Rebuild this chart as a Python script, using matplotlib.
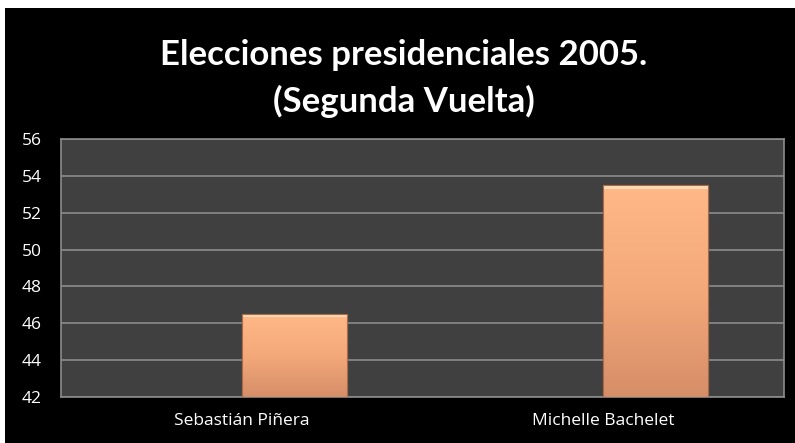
import numpy as np
import matplotlib.pyplot as plt
import matplotlib.patches as mpatches
from matplotlib.colors import LinearSegmentedColormap

candidatos = ['Sebastián Piñera', 'Michelle Bachelet']
votos = [46.5, 53.5]
yticks = [42, 44, 46, 48, 50, 52, 54, 56]

plt.rcParams['font.family'] = ['Open Sans', 'DejaVu Sans']

fig = plt.figure(figsize=(7.95, 4.43), dpi=100)
fig.patch.set_facecolor('white')
# black slide background
fig.patches.append(mpatches.Rectangle((5/795, 0), 1, 1 - 8/443, transform=fig.transFigure,
                                      facecolor='black', edgecolor='none', zorder=-10))

ax = fig.add_axes([61/795, 1 - 396.7/443, 723/795, 257.4/443])
ax.set_facecolor('#404040')

x = np.arange(len(candidatos))
bars = ax.bar(x, [v - 42 for v in votos], bottom=42, width=0.29, align='edge',
              color='#F4A97A', edgecolor='#A86A48', linewidth=0.8, zorder=3)

# vertical gradient inside each bar
grad = np.linspace(0, 1, 256).reshape(-1, 1)
cmap = LinearSegmentedColormap.from_list('peach', ['#D68E68', '#F4A97A', '#FFB888'])
for b in bars:
    x0, y0 = b.get_x(), b.get_y()
    w, h = b.get_width(), b.get_height()
    im = ax.imshow(grad, cmap=cmap, aspect='auto', origin='lower',
                   extent=[x0, x0 + w, y0, y0 + h], zorder=3.5)
    im.set_clip_path(b)
    # light bevel on top
    ax.add_patch(mpatches.Rectangle((x0, y0 + h - 0.18), w, 0.18, facecolor='#FFE2C0',
                                    edgecolor='none', alpha=0.8, zorder=4))
    ax.add_patch(mpatches.Rectangle((x0, y0), w, h, facecolor='none',
                                    edgecolor='#A86A48', linewidth=0.8, zorder=5))

ax.set_xlim(-0.5, 1.5)
ax.set_ylim(42, 56)
ax.set_yticks(yticks)
ax.set_xticks(x)
ax.set_xticklabels(candidatos)
ax.grid(axis='y', color='#8C8C8C', linewidth=1.2, zorder=1)
ax.set_axisbelow(True)
for s in ax.spines.values():
    s.set_color('#8C8C8C')
    s.set_linewidth(1.2)
ax.tick_params(axis='both', length=0, colors='white', labelsize=12.5)
ax.tick_params(axis='y', pad=14)
ax.tick_params(axis='x', pad=12)

fig.text(0.508, 1 - 55/443, 'Elecciones presidenciales 2005.', ha='center', va='center',
         color='white', fontsize=25, fontweight='bold', family=['Lato', 'DejaVu Sans'])
fig.text(0.508, 1 - 101/443, '(Segunda Vuelta)', ha='center', va='center',
         color='white', fontsize=25, fontweight='bold', family=['Lato', 'DejaVu Sans'])

fig.savefig('out.png', dpi=100, facecolor=fig.get_facecolor())
